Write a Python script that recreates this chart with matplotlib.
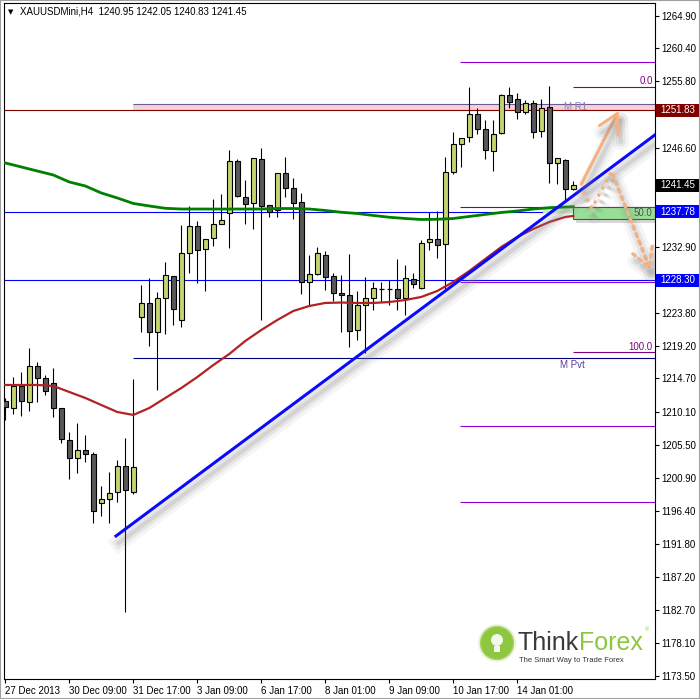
import numpy as np
import matplotlib.pyplot as plt
import matplotlib.patheffects as pe
from matplotlib.patches import Rectangle, Circle, FancyArrowPatch
from matplotlib.transforms import blended_transform_factory

plt.rcParams['font.family'] = ['Liberation Sans', 'DejaVu Sans']

# ---------------- data (XAUUSDMini, H4) ----------------
opens = [1211.61, 1210.56, 1213.65, 1211.39, 1216.42, 1214.71, 1214.02, 1210.56, 1206.17, 1203.64,
         1204.75, 1204.20, 1197.41, 1197.97, 1198.94, 1202.53, 1198.94, 1223.24, 1225.09, 1221.16,
         1225.79, 1228.83, 1222.74, 1232.01, 1235.75, 1232.57, 1234.09, 1236.03, 1237.55, 1244.75,
         1239.76, 1238.93, 1245.02, 1238.66, 1238.01, 1243.09, 1241.01, 1239.07, 1228.00, 1229.11,
         1231.74, 1228.83, 1226.48, 1226.20, 1221.36, 1224.82, 1225.79, 1227.03, 1227.03, 1227.03,
         1225.79, 1228.42, 1227.17, 1233.54, 1233.95, 1233.26, 1243.22, 1247.14, 1248.15, 1251.25,
         1249.17, 1246.17, 1248.62, 1253.88, 1253.33, 1251.53, 1252.77, 1248.90, 1252.22, 1244.47,
         1244.88, 1240.95]
highs = [1211.95, 1214.85, 1215.54, 1218.91, 1216.97, 1215.17, 1216.10, 1210.60, 1207.28, 1208.49,
         1206.82, 1204.47, 1199.81, 1201.75, 1203.41, 1206.41, 1214.58, 1227.63, 1228.64, 1226.70,
         1230.77, 1228.90, 1235.93, 1238.56, 1236.48, 1234.05, 1239.57, 1240.22, 1246.31, 1245.02,
         1242.12, 1245.20, 1246.59, 1238.70, 1243.10, 1245.30, 1242.39, 1240.32, 1231.74, 1232.84,
         1232.29, 1229.25, 1229.01, 1231.87, 1226.75, 1228.69, 1228.00, 1228.00, 1228.28, 1231.18,
         1230.35, 1229.25, 1233.81, 1237.69, 1237.83, 1245.30, 1248.80, 1248.00, 1254.99, 1252.08,
         1250.46, 1250.46, 1254.00, 1255.07, 1254.16, 1253.23, 1253.23, 1253.33, 1255.21, 1245.20,
         1245.02, 1242.05]
lows = [1208.94, 1209.77, 1209.50, 1210.23, 1211.47, 1212.40, 1209.40, 1205.72, 1200.73, 1201.65,
        1203.17, 1194.73, 1195.70, 1194.65, 1197.59, 1182.41, 1198.66, 1221.16, 1219.18, 1213.09,
        1220.80, 1222.09, 1221.85, 1229.25, 1227.86, 1226.84, 1233.02, 1236.00, 1232.79, 1239.85,
        1236.03, 1235.33, 1222.74, 1237.00, 1237.00, 1239.76, 1236.80, 1226.42, 1224.82, 1229.05,
        1226.89, 1225.37, 1221.08, 1219.00, 1220.01, 1218.26, 1224.12, 1225.23, 1224.82, 1224.12,
        1223.43, 1227.17, 1227.10, 1232.43, 1231.32, 1227.03, 1242.95, 1244.00, 1247.38, 1248.52,
        1245.02, 1243.45, 1248.50, 1252.08, 1250.56, 1251.35, 1247.93, 1248.15, 1241.70, 1241.56,
        1239.29, 1240.83]
closes = [1210.70, 1213.65, 1211.61, 1216.42, 1214.71, 1213.00, 1210.56, 1206.27, 1203.64, 1204.79,
          1204.20, 1196.31, 1197.97, 1198.80, 1202.53, 1199.21, 1202.40, 1225.09, 1221.16, 1225.79,
          1228.97, 1224.26, 1232.01, 1235.75, 1232.43, 1233.99, 1236.03, 1236.58, 1244.75, 1239.90,
          1238.79, 1245.16, 1238.52, 1237.69, 1243.09, 1241.01, 1238.93, 1228.00, 1229.11, 1232.01,
          1228.69, 1226.56, 1226.20, 1221.22, 1224.82, 1225.79, 1227.17, 1227.03, 1227.03, 1225.79,
          1228.55, 1227.72, 1233.40, 1233.95, 1233.12, 1243.22, 1247.14, 1247.93, 1251.25, 1249.17,
          1246.27, 1248.48, 1253.88, 1252.91, 1251.53, 1252.77, 1248.80, 1252.08, 1244.47, 1245.16,
          1240.87, 1241.45]

ma_bars = [0, 2, 4, 6, 8, 10, 12, 14, 16, 18, 20, 22, 24, 26, 28, 30, 32, 34, 36, 38,
           40, 42, 44, 46, 48, 50, 52, 54, 56, 58, 60, 62, 64, 66, 68, 70, 71]
red_ma = [1213.79, 1213.79, 1213.79, 1213.65, 1212.82, 1211.99, 1211.02, 1210.05, 1209.64, 1210.60,
          1211.99, 1213.37, 1214.89, 1216.55, 1218.08, 1219.88, 1221.40, 1222.78, 1224.03, 1224.72,
          1225.14, 1225.20, 1225.14, 1225.14, 1225.27, 1225.55, 1225.97, 1226.80, 1228.05, 1229.56,
          1231.23, 1232.89, 1234.27, 1235.38, 1236.35, 1237.04, 1237.18]
green_ma = [1244.51, 1243.96, 1243.40, 1242.85, 1241.88, 1241.33, 1240.36, 1239.67, 1238.91, 1238.56,
            1238.24, 1238.14, 1238.14, 1238.14, 1238.14, 1238.14, 1238.14, 1238.21, 1238.21, 1238.14,
            1237.94, 1237.69, 1237.52, 1237.25, 1237.00, 1236.83, 1236.69, 1236.72, 1236.83, 1237.11,
            1237.39, 1237.66, 1237.87, 1238.14, 1238.32, 1238.42, 1238.46]

date_bars = [0, 8, 16, 24, 32, 40, 48, 56, 64]
date_labels = ["27 Dec 2013", "30 Dec 09:00", "31 Dec 17:00", "3 Jan 09:00", "6 Jan 17:00",
               "8 Jan 01:00", "9 Jan 09:00", "10 Jan 17:00", "14 Jan 01:00"]
price_ticks = [1264.90, 1260.40, 1255.80, 1251.20, 1246.60, 1242.10, 1237.50, 1232.90, 1228.30,
               1223.80, 1219.20, 1214.70, 1210.10, 1205.50, 1200.90, 1196.40, 1191.80, 1187.20,
               1182.70, 1178.10, 1173.50]

title = "XAUUSDMini,H4  1240.95 1242.05 1240.83 1241.45"
r1_level, r1_top = 1251.83, 1252.64
support_level = 1237.78
target_level = 1228.30
pivot_level = 1217.48
last_price = 1241.45

fib_upper = [1258.45, 1228.10, 1208.11, 1197.56]      # start at bar ~57
fib_main = [1254.99, 1218.31]                         # 0.0 and 100.0
fib_mid = 1238.38                                     # 50.0
zone_low, zone_high = 1236.72, 1238.46

trend_start = (13.84, 1192.89)
trend_end = (81.2, 1248.39)
bull_arrow = [(71.84, 1241.23), (76.84, 1252.08)]
bear_path = [(72.25, 1240.54), (73.3, 1238.24), (75.8, 1243.31), (80.8, 1229.25)]

# ---------------- figure ----------------
W, H = 700, 699
fig = plt.figure(figsize=(7, 6.99), dpi=100)
ax = fig.add_axes([4 / W, 1 - 679 / H, 651 / W, 676.5 / H])
ax.set_xlim(-0.1625, 81.2125)
ax.set_ylim(1173.10, 1266.72)
for s in ax.spines.values():
    s.set_linewidth(0.8)

x_end = 81.2125

# level lines
ax.axhline(r1_level, color='#800000', lw=0.8, zorder=1)
ax.add_patch(Rectangle((16, r1_level), x_end - 16, r1_top - r1_level, facecolor='#f6d2d2',
                       edgecolor='none', zorder=0.5))
ax.hlines(r1_top, 16, x_end, color='#6a5a9a', lw=0.8, zorder=1)
ax.axhline(support_level, color='#0000ff', lw=0.8, zorder=1)
ax.axhline(target_level, color='#0000ff', lw=0.8, zorder=1)
ax.hlines(pivot_level, 16, x_end, color='#000080', lw=0.8, zorder=1)
ax.text(69.4, pivot_level - 0.9, "M Pvt", fontsize=7, color='#5a3c9c', va='center')
ax.text(69.8, r1_level + 0.45, "M R1", fontsize=7, color='#8a80b8', va='center')

ax.hlines(fib_upper, 56.8, x_end, color='#9400d3', lw=0.8, zorder=1)
ax.hlines(fib_main, 71, x_end, color='#800080', lw=0.8, zorder=1)
ax.hlines(fib_mid, 56.8, x_end, color='#800080', lw=0.8, zorder=1)
ax.text(80.9, fib_main[0] + 0.85, "0.0", fontsize=7, color='#800080', ha='right', va='center')
ax.text(80.9, fib_main[1] + 0.8, "100.0", fontsize=7, color='#800080', ha='right', va='center')

# green zone
shadow = [pe.SimplePatchShadow(offset=(2, -3), shadow_rgbFace='#909090', alpha=0.35), pe.Normal()]
ax.add_patch(Rectangle((67.2, 1237.59), 3.8, zone_high - 1237.59, facecolor='#c9efc9',
                       edgecolor='none', zorder=1.5))
ax.add_patch(Rectangle((71, zone_low), x_end - 71, zone_high - zone_low, facecolor='#98e098',
                       edgecolor='#505050', lw=0.8, zorder=1.5, path_effects=shadow))
ax.text(80.9, 1237.6, "50.0", fontsize=7, color='#505050', ha='right', va='center', zorder=6)

# candles
for i, (o, h, l, c) in enumerate(zip(opens, highs, lows, closes)):
    ax.vlines(i, l, h, color='black', lw=0.8, zorder=2)
    if o == c:
        ax.hlines(o, i - 0.3, i + 0.3, color='black', lw=0.9, zorder=3)
        continue
    fc = '#c4d46e' if c > o else '#585858'
    ax.add_patch(Rectangle((i - 0.3, min(o, c)), 0.6, abs(c - o), facecolor=fc,
                           edgecolor='black', lw=0.8, zorder=3))

# moving averages
ax.plot(ma_bars, green_ma, color='#008000', lw=2.0, zorder=4)
ax.plot(ma_bars, red_ma, color='#b22222', lw=1.6, zorder=4)

# trend line with soft shadow
soft = [pe.SimpleLineShadow(offset=(2, -5), shadow_color='#808080', alpha=0.08, linewidth=12),
        pe.SimpleLineShadow(offset=(2, -5), shadow_color='#808080', alpha=0.12, linewidth=7),
        pe.SimpleLineShadow(offset=(2, -5), shadow_color='#808080', alpha=0.18, linewidth=3),
        pe.Normal()]
ax.plot([trend_start[0], trend_end[0]], [trend_start[1], trend_end[1]], color='#0a0aff',
        lw=2.2, zorder=5, path_effects=soft)

# scenario arrows
orange = '#f4b283'
head = '->,head_length=9,head_width=5'
arr = FancyArrowPatch(bull_arrow[0], bull_arrow[1], arrowstyle=head,
                      color=orange, lw=2.2, zorder=6, path_effects=soft, mutation_scale=1.5)
ax.add_patch(arr)
bx, by = zip(*bear_path)
dots = (0, (1, 1.4))
ax.plot(bx[:-1], by[:-1], color=orange, lw=2.4, ls=dots, zorder=6, path_effects=soft)
arr2 = FancyArrowPatch(bear_path[-2], bear_path[-1], arrowstyle=head,
                       color=orange, lw=2.4, ls=dots, zorder=6, mutation_scale=1.5,
                       path_effects=soft)
ax.add_patch(arr2)

# axes ticks (labels hidden under the price tags are left blank)
tag_levels = [r1_level, last_price, support_level, target_level]
ax.yaxis.tick_right()
ax.set_yticks(price_ticks)
ax.set_yticklabels(["" if min(abs(p - t) for t in tag_levels) < 0.7 else f"{p:.2f}"
                    for p in price_ticks])
ax.tick_params(axis='y', direction='out', length=3, width=0.8, pad=1.5, labelsize=7)
ax.set_xticks(date_bars)
ax.set_xticklabels(date_labels)
ax.tick_params(axis='x', direction='out', length=3, width=0.8, pad=2, labelsize=7)
for lbl in ax.get_xticklabels():
    lbl.set_ha('left')

# price tags on the right axis
tr = blended_transform_factory(ax.transAxes, ax.transData)
for val, col in [(r1_level, '#800000'), (last_price, 'black'),
                 (support_level, '#0000ff'), (target_level, '#0000ff')]:
    ax.add_patch(Rectangle((1.0015, val - 0.9), 0.066, 1.8, transform=tr, facecolor=col,
                           edgecolor='none', clip_on=False, zorder=8))
    ax.text(1.0075, val, f"{val:.2f}", transform=tr, color='white', fontsize=7,
            va='center', ha='left', clip_on=False, zorder=9)

# title
fig.text(8 / W, 1 - 12 / H, "\u25bc", fontsize=5, family='DejaVu Sans', va='center')
fig.text(20 / W, 1 - 12 / H, title, fontsize=7, va='center')

# logo
def fp(x, y):
    return (x / W, 1 - y / H)

fig.patches.append(Circle(fp(497, 643), 19 / W, transform=fig.transFigure,
                          facecolor='#eef3e4', edgecolor='none'))
fig.patches.append(Circle(fp(497, 643), 16.5 / W, transform=fig.transFigure,
                          facecolor='#8dc63f', edgecolor='#a9d465', lw=1))
fig.patches.append(Circle(fp(497, 640), 6 / W, transform=fig.transFigure,
                          facecolor='#f4f8e8', edgecolor='none'))
fig.patches.append(Rectangle(fp(494, 652), 6 / W, 6 / H, transform=fig.transFigure,
                             facecolor='#f4f8e8', edgecolor='none'))
fig.text(*fp(517, 643), "Think", fontsize=18, color='#3a3a3a', va='center')
fig.text(*fp(579, 643), "Forex", fontsize=18, color='#8dc63f', va='center')
fig.text(*fp(645, 630), "\u00ae", fontsize=4, color='#8dc63f', va='center')
fig.text(*fp(519, 660), "The Smart Way to Trade Forex", fontsize=5.5, color='#333333', va='center')

# outer frame
fig.patches.append(Rectangle((0, 0), 1, 1, transform=fig.transFigure, fill=False,
                             edgecolor='#a0a0a0', lw=1.5))

fig.savefig('out.png', dpi=100)
